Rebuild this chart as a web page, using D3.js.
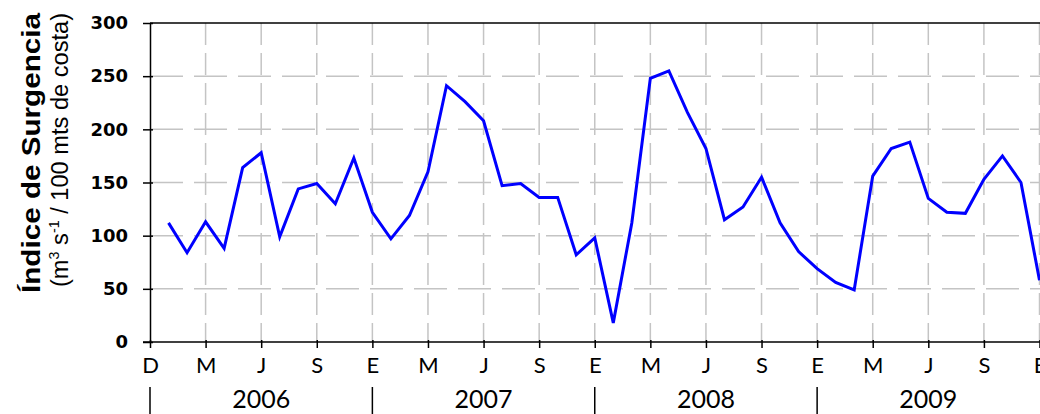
<!DOCTYPE html>
<html>
<head>
<meta charset="utf-8">
<script src="https://cdn.jsdelivr.net/npm/d3@7"></script>
<style>
  body { margin: 0; background: #fff; }
  svg { display: block; }
</style>
</head>
<body>
<script>
/*
*    surgencia chart
*/

// monthly upwelling index, Jan 2006 - Dec 2009
var values2006 = [112, 84, 113, 88, 164, 178, 99, 144, 149, 130, 173, 122];
var values2007 = [97, 119, 160, 241, 226, 208, 147, 149, 136, 136, 82, 98];
var values2008 = [18, 112, 248, 255, 216, 182, 115, 127, 155, 112, 85, 69];
var values2009 = [56, 49, 156, 182, 188, 135, 122, 121, 153, 175, 150, 58];

var years = ["2006", "2007", "2008", "2009"];
var monthLabels = ["D", "M", "J", "S", "E", "M", "J", "S", "E", "M", "J", "S", "E", "M", "J", "S", "E"];
var yTicks = [0, 50, 100, 150, 200, 250, 300];

var values = values2006.concat(values2007, values2008, values2009);

var margin = {left: 150, right: 0, top: 23, bottom: 72};
var width = 1040 - margin.left - margin.right;
var height = 414 - margin.top - margin.bottom;

var svg = d3.select("body")
  .append("svg")
  .attr("width", 1040)
  .attr("height", 414);

var g = svg.append("g")
  .attr("transform", "translate(" + margin.left + "," + margin.top + ")");

var x = d3.scaleLinear()
  .domain([0, values.length])
  .range([0, width - 0.5]);

var y = d3.scaleLinear()
  .domain([0, 300])
  .range([height, 0]);

// grid
g.append("g")
  .attr("class", "grid-h")
  .selectAll("line")
  .data(yTicks.filter(function(d) { return d > 0 && d < 300; }))
  .enter()
  .append("line")
  .attr("x1", 0)
  .attr("x2", width)
  .attr("y1", function(d) { return y(d); })
  .attr("y2", function(d) { return y(d); })
  .attr("stroke", "#c4c4c4")
  .attr("stroke-width", 1.5)
  .attr("stroke-dasharray", "33,11");

var tickIdx = monthLabels.map(function(d, i) { return i * 3; });

g.append("g")
  .attr("class", "grid-v")
  .selectAll("line")
  .data(tickIdx.slice(1))
  .enter()
  .append("line")
  .attr("x1", function(d) { return x(d); })
  .attr("x2", function(d) { return x(d); })
  .attr("y1", 0)
  .attr("y2", height)
  .attr("stroke", "#c4c4c4")
  .attr("stroke-width", 1.5)
  .attr("stroke-dasharray", "22,8");

// top border
g.append("line")
  .attr("x1", 0)
  .attr("x2", width)
  .attr("y1", y(300))
  .attr("y2", y(300))
  .attr("stroke", "#000")
  .attr("stroke-width", 1.5);

// y axis
var yAxisCall = d3.axisLeft(y)
  .tickValues(yTicks)
  .tickSizeInner(7)
  .tickSizeOuter(0)
  .tickPadding(15);

var yAxis = g.append("g")
  .attr("class", "y axis")
  .call(yAxisCall);

yAxis.select(".domain").attr("stroke-width", 1.5);
yAxis.selectAll(".tick line")
  .attr("x2", -7)
  .attr("x1", 3)
  .attr("stroke-width", 1.5);
yAxis.selectAll("text")
  .attr("font-family", "DejaVu Sans")
  .attr("font-weight", "bold")
  .attr("font-size", "18px")
  .attr("fill", "#000");

// x axis
var xAxisCall = d3.axisBottom(x)
  .tickValues(tickIdx)
  .tickFormat(function(d, i) { return monthLabels[i]; })
  .tickSizeInner(6)
  .tickSizeOuter(0)
  .tickPadding(9);

var xAxis = g.append("g")
  .attr("class", "x axis")
  .attr("transform", "translate(0," + height + ")")
  .call(xAxisCall);

xAxis.select(".domain")
  .attr("stroke-width", 1.5)
  .attr("d", "M-7,0H" + width);
xAxis.selectAll(".tick line")
  .attr("y1", -2)
  .attr("stroke-width", 1.5);
xAxis.selectAll("text")
  .attr("font-family", "Lato")
  .attr("font-size", "22px")
  .attr("fill", "#000");

// year labels and separators
var yearG = g.append("g")
  .attr("class", "years")
  .attr("transform", "translate(0," + height + ")");

yearG.selectAll("line")
  .data(years)
  .enter()
  .append("line")
  .attr("x1", function(d, i) { return x(i * 12); })
  .attr("x2", function(d, i) { return x(i * 12); })
  .attr("y1", 45)
  .attr("y2", 72)
  .attr("stroke", "#000")
  .attr("stroke-width", 1.5);

yearG.selectAll("text")
  .data(years)
  .enter()
  .append("text")
  .attr("x", function(d, i) { return x(i * 12 + 6); })
  .attr("y", 66)
  .attr("text-anchor", "middle")
  .attr("font-family", "Lato")
  .attr("font-size", "25px")
  .text(function(d) { return d; });

// axis titles
svg.append("text")
  .attr("transform", "translate(40,153) rotate(-90)")
  .attr("text-anchor", "middle")
  .attr("font-family", "Liberation Sans, Arial, sans-serif")
  .attr("font-weight", "bold")
  .attr("font-size", "25px")
  .attr("textLength", 280)
  .attr("lengthAdjust", "spacingAndGlyphs")
  .text("Índice de Surgencia");

var sub = svg.append("text")
  .attr("transform", "translate(68,150) rotate(-90)")
  .attr("text-anchor", "middle")
  .attr("font-family", "Liberation Sans, Arial, sans-serif")
  .attr("font-size", "23px")
  .attr("textLength", 274)
  .attr("lengthAdjust", "spacingAndGlyphs");
sub.append("tspan").text("(m");
sub.append("tspan").attr("font-size", "14px").attr("dy", -9).text("3");
sub.append("tspan").attr("dy", 9).text(" s");
sub.append("tspan").attr("font-size", "14px").attr("dy", -9).text("-1");
sub.append("tspan").attr("dy", 9).text(" / 100 mts de costa)");

// data line
var line = d3.line()
  .x(function(d, i) { return x(i + 1); })
  .y(function(d) { return y(d); });

g.append("path")
  .datum(values)
  .attr("fill", "none")
  .attr("stroke", "#0000ff")
  .attr("stroke-width", 3)
  .attr("stroke-linejoin", "miter")
  .attr("d", line);
</script>
</body>
</html>
